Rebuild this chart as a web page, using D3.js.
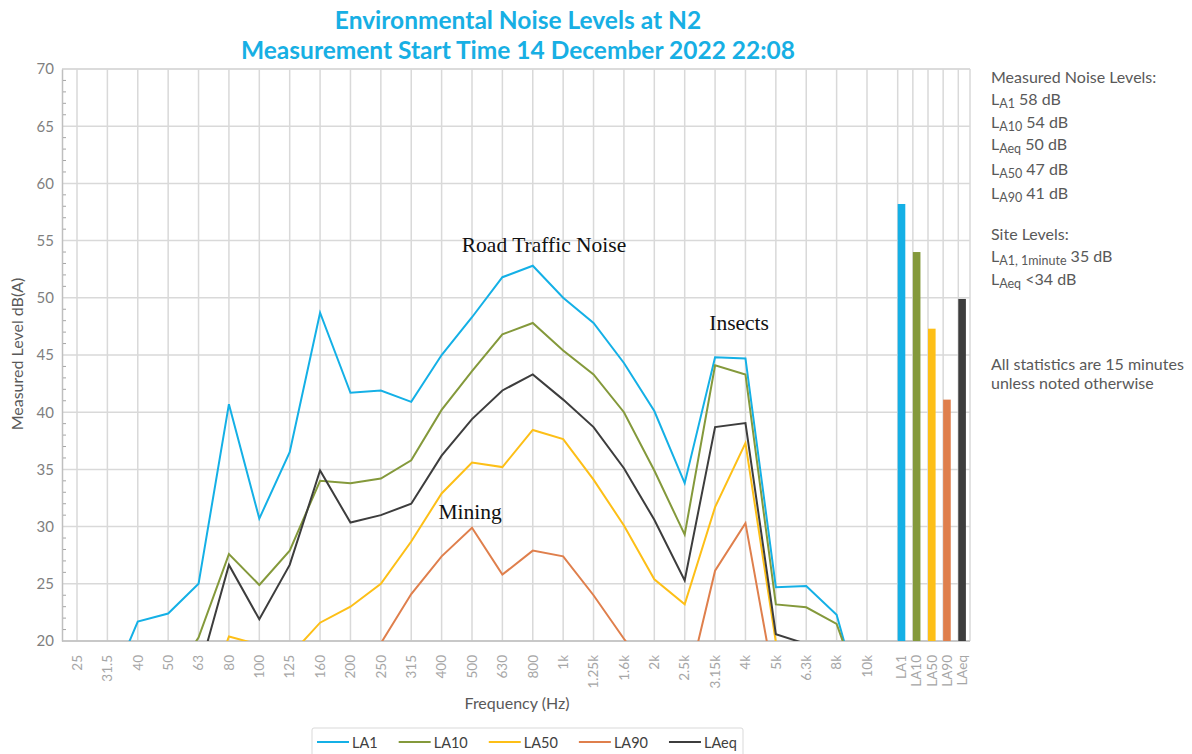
<!DOCTYPE html>
<html>
<head>
<meta charset="utf-8">
<script src="https://cdn.jsdelivr.net/npm/d3@7"></script>
<style>
  html, body { margin: 0; padding: 0; background: #ffffff; }
  svg { display: block; font-family: Lato, "Open Sans", sans-serif; }
</style>
</head>
<body>
<svg id="chart" width="1192" height="754"></svg>
<script>
// ---------------- DATA ----------------
const titleLines = ["Environmental Noise Levels at N2", "Measurement Start Time 14 December 2022 22:08"];
const freqs = ["25","31.5","40","50","63","80","100","125","160","200","250","315","400","500","630","800","1k","1.25k","1.6k","2k","2.5k","3.15k","4k","5k","6.3k","8k","10k"];
const LA1  = [14, 15.4, 21.7, 22.4, 25.0, 40.7, 30.7, 36.5, 48.7, 41.7, 41.9, 40.9, 45.0, 48.3, 51.8, 52.8, 50.0, 47.8, 44.3, 40.1, 33.8, 44.8, 44.7, 24.7, 24.8, 22.3, 12.8];
const LA10 = [12, 13, 14.5, 16.3, 20.3, 27.6, 24.9, 27.9, 34.0, 33.8, 34.2, 35.8, 40.2, 43.6, 46.8, 47.8, 45.4, 43.3, 40.0, 34.9, 29.3, 44.1, 43.3, 23.2, 22.95, 21.5, 14];
const LA50 = [9, 10, 11, 12, 13, 20.4, 19.67, 18.7, 21.6, 23.0, 25.0, 28.7, 32.9, 35.6, 35.2, 38.45, 37.65, 34.1, 30.1, 25.4, 23.2, 31.7, 37.3, 19.9, 17, 15, 13];
const LA90 = [8, 9, 10, 11, 12, 13, 14, 14.5, 15.5, 16.5, 19.8, 24.1, 27.4, 29.9, 25.8, 27.9, 27.4, 24.0, 20.2, 16.5, 15.0, 26.15, 30.3, 15.6, 14, 13, 12];
const LAeq = [11, 12, 13, 14.5, 17.1, 26.65, 21.9, 26.65, 34.9, 30.35, 31.0, 32.0, 36.2, 39.4, 41.9, 43.3, 41.1, 38.7, 35.1, 30.6, 25.3, 38.7, 39.05, 20.6, 19.74, 16, 14];
const seriesNames = ["LA1", "LA10", "LA50", "LA90", "LAeq"];
const seriesColors = ["#14b0e6", "#84993b", "#fdbf17", "#df7f4c", "#3d3d3d"];
const statNames = ["LA1", "LA10", "LA50", "LA90", "LAeq"];
const statValues = [58.2, 54.0, 47.3, 41.1, 49.9];
const yTicks = [20, 25, 30, 35, 40, 45, 50, 55, 60, 65, 70];
const yLabel = "Measured Level dB(A)";
const xLabel = "Frequency (Hz)";
// annotation anchors: position along the frequency index, and level in dB
const annotationTexts = ["Road Traffic Noise", "Insects", "Mining"];
const annotationIndex = [15.37, 21.79, 12.94];
const annotationLevel = [54.0, 47.2, 30.7];
// right-side notes: [prefix, subscript, rest]
const measuredHeader = "Measured Noise Levels:";
const measuredLines = [["L","A1"," 58 dB"],["L","A10"," 54 dB"],["L","Aeq"," 50 dB"],["L","A50"," 47 dB"],["L","A90"," 41 dB"]];
const siteHeader = "Site Levels:";
const siteLines = [["L","A1, 1minute"," 35 dB"],["L","Aeq"," <34 dB"]];
const noteLines = ["All statistics are 15 minutes", "unless noted otherwise"];

// ---------------- LAYOUT ----------------
const svg = d3.select("#chart");
const plot = {left: 62, right: 970, top: 69, bottom: 641};

const y = d3.scaleLinear().domain([20, 70]).range([plot.bottom, plot.top]);
const x = d3.scalePoint().domain(freqs).range([77, 867]);
const xi = d3.scaleLinear().domain([0, freqs.length - 1]).range([77, 867]);
const xs = d3.scalePoint().domain(statNames).range([897.7, 958.3]);
const barW = 7.6;

const gridColor = "#d9d9d9";

// title
svg.append("g").selectAll("text").data(titleLines).join("text")
  .attr("x", 518).attr("y", (d, i) => 29 + i * 29.5)
  .attr("text-anchor", "middle")
  .attr("font-size", 24.5).attr("font-weight", 700)
  .attr("fill", "#17afe4")
  .text(d => d);

// horizontal grid
svg.append("g").selectAll("line").data(yTicks).join("line")
  .attr("x1", plot.left).attr("x2", plot.right)
  .attr("y1", d => y(d)).attr("y2", d => y(d))
  .attr("stroke", gridColor).attr("stroke-width", 1.5);

// vertical grid (freq + stats)
svg.append("g").selectAll("line").data(freqs).join("line")
  .attr("x1", d => x(d)).attr("x2", d => x(d))
  .attr("y1", plot.top).attr("y2", plot.bottom)
  .attr("stroke", gridColor).attr("stroke-width", 1.5);
svg.append("g").selectAll("line").data(statNames).join("line")
  .attr("x1", d => xs(d)).attr("x2", d => xs(d))
  .attr("y1", plot.top).attr("y2", plot.bottom)
  .attr("stroke", gridColor).attr("stroke-width", 1.5);

// border
svg.append("line").attr("x1", plot.right).attr("x2", plot.right).attr("y1", plot.top).attr("y2", plot.bottom)
  .attr("stroke", gridColor).attr("stroke-width", 1.5);
svg.append("line").attr("x1", plot.left).attr("x2", plot.right).attr("y1", plot.top).attr("y2", plot.top)
  .attr("stroke", gridColor).attr("stroke-width", 1.5);

// y axis
const yAxis = d3.axisLeft(y).tickValues(yTicks).tickSize(0).tickPadding(8);
const gy = svg.append("g").attr("transform", `translate(${plot.left},0)`).call(yAxis);
gy.select(".domain").attr("stroke", "#bfbfbf").attr("stroke-width", 1.5);
gy.selectAll("text").attr("font-size", 15).attr("fill", "#7f7f7f").attr("font-family", "Lato, sans-serif");
// minor ticks (inside)
const minor = d3.range(21, 70).filter(v => v % 5 !== 0);
svg.append("g").selectAll("line").data(minor).join("line")
  .attr("x1", plot.left + 1).attr("x2", plot.left + 4)
  .attr("y1", d => y(d)).attr("y2", d => y(d))
  .attr("stroke", "#a6a6a6").attr("stroke-width", 1);

// bottom axis line
svg.append("line").attr("x1", plot.left).attr("x2", plot.right).attr("y1", plot.bottom).attr("y2", plot.bottom)
  .attr("stroke", "#bfbfbf").attr("stroke-width", 1.5);

// x tick labels
svg.append("g").selectAll("text").data(freqs).join("text")
  .attr("transform", d => `translate(${x(d)},655) rotate(-90)`)
  .attr("text-anchor", "end").attr("dy", "0.35em")
  .attr("font-size", 13.5).attr("fill", "#a6a6a6")
  .text(d => d);
svg.append("g").selectAll("text").data(statNames).join("text")
  .attr("transform", d => `translate(${xs(d) + barW / 2},655) rotate(-90)`)
  .attr("text-anchor", "end").attr("dy", "0.35em")
  .attr("font-size", 13.5).attr("fill", "#a6a6a6")
  .text(d => d);

// axis titles
svg.append("text").attr("transform", `translate(23,354) rotate(-90)`)
  .attr("text-anchor", "middle").attr("font-size", 16).attr("fill", "#595959").text(yLabel);
svg.append("text").attr("x", 517).attr("y", 709)
  .attr("text-anchor", "middle").attr("font-size", 16).attr("fill", "#595959").text(xLabel);

// clip
svg.append("defs").append("clipPath").attr("id", "plotclip")
  .append("rect").attr("x", plot.left).attr("y", plot.top)
  .attr("width", plot.right - plot.left).attr("height", plot.bottom - plot.top);

// bars
svg.append("g").selectAll("rect").data(statNames).join("rect")
  .attr("x", d => xs(d)).attr("width", barW)
  .attr("y", (d, i) => y(statValues[i]))
  .attr("height", (d, i) => y(20) - y(statValues[i]))
  .attr("fill", (d, i) => seriesColors[i]);

// lines
const seriesData = [LA1, LA10, LA50, LA90, LAeq];
const line = d3.line().x((d, i) => x(freqs[i])).y(d => y(d));
svg.append("g").attr("clip-path", "url(#plotclip)")
  .selectAll("path").data(seriesData).join("path")
  .attr("d", d => line(d))
  .attr("fill", "none")
  .attr("stroke", (d, i) => seriesColors[i])
  .attr("stroke-width", 2)
  .attr("stroke-linejoin", "miter");

// annotations
svg.append("g").selectAll("text").data(annotationTexts).join("text")
  .attr("x", (d, i) => xi(annotationIndex[i])).attr("y", (d, i) => y(annotationLevel[i]))
  .attr("text-anchor", "middle")
  .style("font-family", "'Liberation Serif', 'DejaVu Serif', serif")
  .attr("font-size", 21.5).attr("fill", "#111")
  .text(d => d);

// right-side notes
const notes = svg.append("g").attr("fill", "#595959").attr("font-size", 16);
notes.append("text").attr("x", 991).attr("y", 83).text(measuredHeader);
function subLine(parts, yy) {
  const t = notes.append("text").attr("x", 991).attr("y", yy);
  t.append("tspan").text(parts[0]);
  t.append("tspan").attr("font-size", 12.5).attr("dy", 3).text(parts[1]);
  t.append("tspan").attr("dy", -3).text(parts[2]);
}
const measuredY = [105, 127.5, 150, 175, 198.5];
measuredLines.forEach((p, i) => subLine(p, measuredY[i]));
notes.append("text").attr("x", 991).attr("y", 239.5).text(siteHeader);
const siteY = [262, 285];
siteLines.forEach((p, i) => subLine(p, siteY[i]));
notes.selectAll(".note").data(noteLines).join("text").attr("class", "note")
  .attr("x", 991).attr("y", (d, i) => 370 + i * 18.5).text(d => d);

// legend
const lg = svg.append("g");
lg.append("rect").attr("x", 312).attr("y", 728).attr("width", 431).attr("height", 40)
  .attr("rx", 2).attr("fill", "#fff").attr("stroke", "#d9d9d9");
let lx = 317;
seriesNames.forEach((name, i) => {
  lg.append("line").attr("x1", lx).attr("x2", lx + 32).attr("y1", 742).attr("y2", 742)
    .attr("stroke", seriesColors[i]).attr("stroke-width", 2);
  const t = lg.append("text").attr("x", lx + 35).attr("y", 747.5)
    .attr("font-size", 14.5).attr("fill", "#404040").text(name);
  lx = lx + 35 + t.node().getComputedTextLength() + 21;
});
</script>
</body>
</html>
